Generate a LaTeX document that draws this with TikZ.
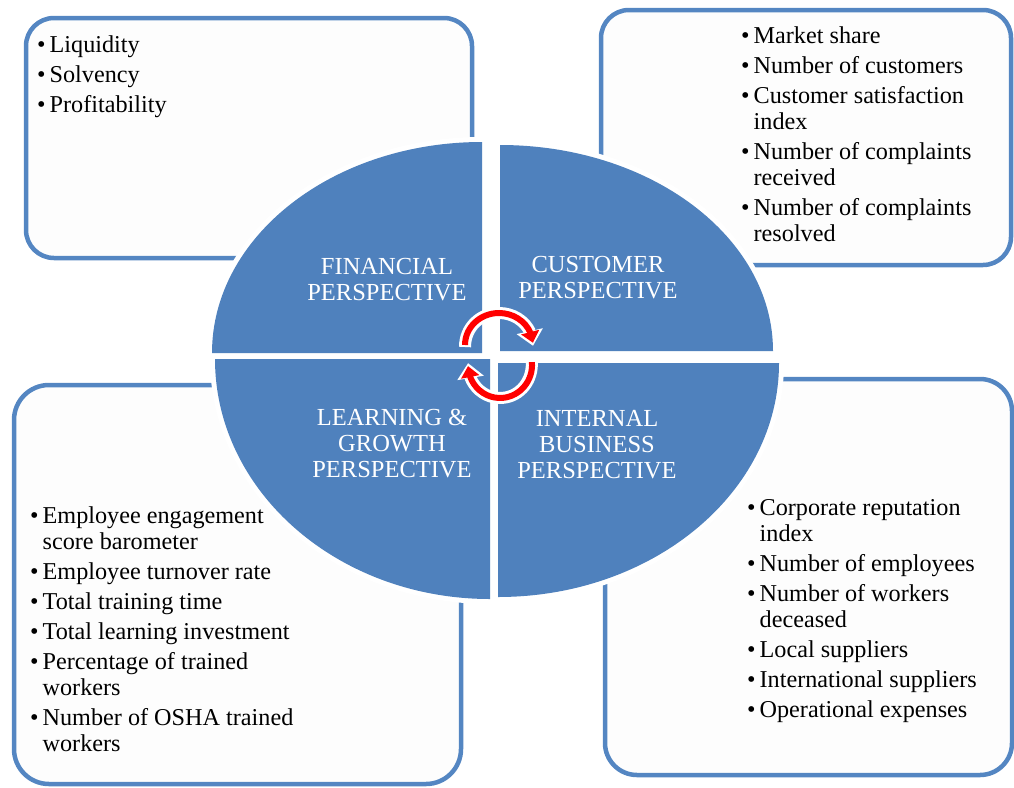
\documentclass[tikz,border=0pt]{standalone}
\usepackage{fontspec}
\setmainfont{Liberation Serif}
\usetikzlibrary{arrows.meta,bending}

\definecolor{quadblue}{RGB}{79,129,189}
\definecolor{frameblue}{RGB}{84,134,194}
\definecolor{panelfill}{RGB}{253,253,253}
\definecolor{cyclered}{RGB}{255,0,0}

\newcommand{\bul}{\textbullet}

\tikzset{
  panel/.style={draw=frameblue, line width=4.5pt, fill=panelfill, rounded corners=#1},
  quad/.style={fill=quadblue, preaction={draw=white, line width=10pt}},
  quadlabel/.style={text=white, inner sep=0pt, anchor=base,
    font=\fontsize{24.5}{26}\selectfont},
  itemlist/.style={inner sep=0pt, anchor=base west,
    font=\fontsize{24.2}{26}\selectfont},
  halo/.style={draw=white, line width=12pt, shorten >=-3pt, shorten <=-2pt,
    -{Triangle[length=15pt, width=26pt]}},
  cyclearrow/.style={draw=cyclered, line width=6pt,
    -{Triangle[length=11pt, width=18pt]}},
}

\begin{document}
\begin{tikzpicture}[x=1pt, y=-1pt]
  \useasboundingbox (0,0) rectangle (1014,787);

  % measure panels
  \path[panel=28pt] (26,18) rectangle (472,258);
  \path[panel=28pt] (601,10) rectangle (1011,265);
  \path[panel=35pt] (14,385) rectangle (461,784);
  \path[panel=32pt] (605,379) rectangle (1012,775);

  % the four quadrants of the scorecard
  \path[quad] (482,353) -- (212,353)
    arc[start angle=180, end angle=270, x radius=270, y radius=211] -- cycle;
  \path[quad] (500,351) -- (500,145)
    arc[start angle=270, end angle=360, x radius=273, y radius=206] -- cycle;
  \path[quad] (490,359) -- (215,359)
    arc[start angle=180, end angle=90, x radius=275, y radius=240] -- cycle;
  \path[quad] (498,363) -- (779,363)
    arc[start angle=0, end angle=90, x radius=281, y radius=234] -- cycle;

  % quadrant titles
  \node[quadlabel] (fin) at (387,274)
    {\begin{tabular}[t]{@{}c@{}}FINANCIAL\\PERSPECTIVE\end{tabular}};
  \node[quadlabel] (cus) at (598,272)
    {\begin{tabular}[t]{@{}c@{}}CUSTOMER\\PERSPECTIVE\end{tabular}};
  \node[quadlabel] (lrn) at (392,425)
    {\begin{tabular}[t]{@{}c@{}}LEARNING \&\\GROWTH\\PERSPECTIVE\end{tabular}};
  \node[quadlabel] (ibp) at (597,426)
    {\begin{tabular}[t]{@{}c@{}}INTERNAL\\BUSINESS\\PERSPECTIVE\end{tabular}};

  % measures listed in each panel
  \node[itemlist] (finlist) at (37,52)
    {\begin{tabular}[t]{@{}l@{\hspace{4pt}}l@{}}
      \bul & Liquidity\\[4pt]
      \bul & Solvency\\[4pt]
      \bul & Profitability
     \end{tabular}};
  \node[itemlist] (cuslist) at (741,43)
    {\begin{tabular}[t]{@{}l@{\hspace{4pt}}l@{}}
      \bul & Market share\\[4pt]
      \bul & Number of customers\\[4pt]
      \bul & Customer satisfaction\\
           & index\\[4pt]
      \bul & Number of complaints\\
           & received\\[4pt]
      \bul & Number of complaints\\
           & resolved
     \end{tabular}};
  \node[itemlist] (lrnlist) at (30,523)
    {\begin{tabular}[t]{@{}l@{\hspace{4pt}}l@{}}
      \bul & Employee engagement\\
           & score barometer\\[4pt]
      \bul & Employee turnover rate\\[4pt]
      \bul & Total training time\\[4pt]
      \bul & Total learning investment\\[4pt]
      \bul & Percentage of trained\\
           & workers\\[4pt]
      \bul & Number of OSHA trained\\
           & workers
     \end{tabular}};
  \node[itemlist] (ibplist) at (747,515)
    {\begin{tabular}[t]{@{}l@{\hspace{4pt}}l@{}}
      \bul & Corporate reputation\\
           & index\\[4pt]
      \bul & Number of employees\\[4pt]
      \bul & Number of workers\\
           & deceased\\[4pt]
      \bul & Local suppliers\\[4pt]
      \bul & International suppliers\\[4pt]
      \bul & Operational expenses
     \end{tabular}};

  % cycle arrows in the centre
  \draw[halo] (465,345)
    arc[start angle=180, end angle=356, x radius=34, y radius=32];
  \draw[cyclearrow] (465,345)
    arc[start angle=180, end angle=356, x radius=34, y radius=32];
  \draw[halo] (531.9,362.1)
    arc[start angle=-5, end angle=178, x radius=32, y radius=33];
  \draw[cyclearrow] (531.9,362.1)
    arc[start angle=-5, end angle=178, x radius=32, y radius=33];
\end{tikzpicture}
\end{document}
